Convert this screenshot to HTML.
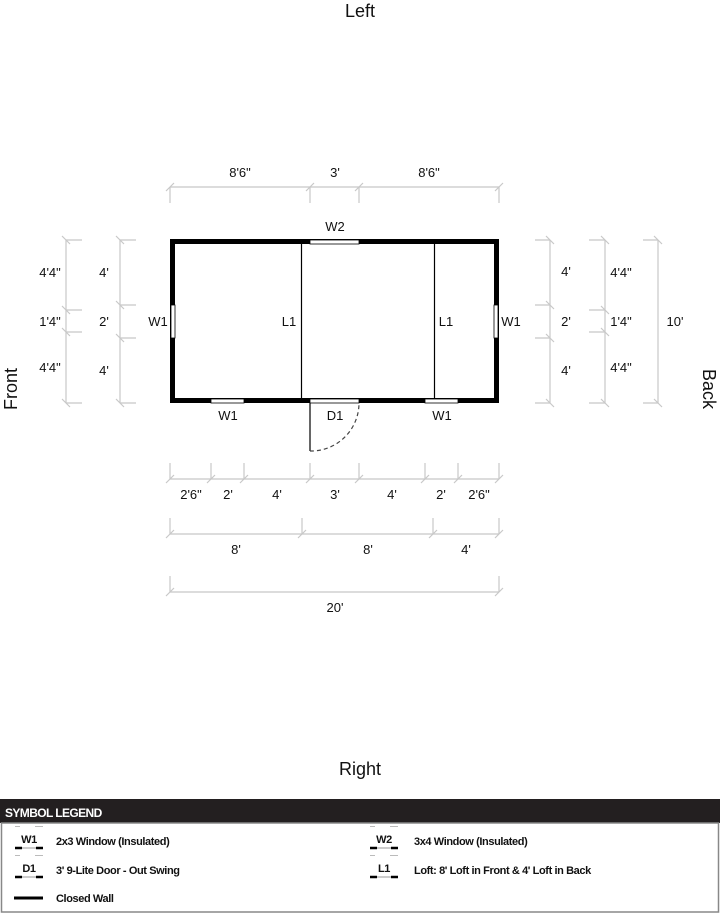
<!DOCTYPE html>
<html><head><meta charset="utf-8"><style>
html,body{margin:0;padding:0;background:#fff;width:720px;height:913px;overflow:hidden}
svg{display:block}
.t{font-family:"Liberation Sans",sans-serif;font-size:13px;fill:#111}
.l{font-family:"Liberation Sans",sans-serif;font-size:11px;font-weight:bold;fill:#111;letter-spacing:-0.4px}
</style></head><body>
<svg width="720" height="913" viewBox="0 0 720 913" xmlns="http://www.w3.org/2000/svg">
<g class="t">
<text x="360" y="17" text-anchor="middle" style="font-size:18px">Left</text>
<text x="360" y="775" text-anchor="middle" style="font-size:18px">Right</text>
<text transform="translate(17,389) rotate(-90)" text-anchor="middle" style="font-size:18px">Front</text>
<text transform="translate(703,389) rotate(90)" text-anchor="middle" style="font-size:18px">Back</text>
</g>
<g stroke="#c8c8c8" stroke-width="1.2" fill="none">
<!-- top dims -->
<path d="M170 187H499"/>
<path d="M170 187V203M310 187V203M359 187V203M499 187V203"/>
<path d="M166 191l8-8M306 191l8-8M355 191l8-8M495 191l8-8"/>
<!-- bottom row 1 -->
<path d="M170 479H499"/>
<path d="M170 463V479M211 463V479M244 463V479M310 463V479M359 463V479M425 463V479M458 463V479M499 463V479"/>
<path d="M166 483l8-8M207 483l8-8M240 483l8-8M306 483l8-8M355 483l8-8M421 483l8-8M454 483l8-8M495 483l8-8"/>
<!-- row 2 -->
<path d="M170 534H499M170 518V534M302 518V534M433 518V534M499 518V534"/>
<path d="M166 538l8-8M298 538l8-8M429 538l8-8M495 538l8-8"/>
<!-- row 3 -->
<path d="M170 592H499M170 576V592M499 576V592"/>
<path d="M166 596l8-8M495 596l8-8"/>
<!-- left col 1 x66 -->
<path d="M66 240V403M66 240H82M66 310H82M66 332H82M66 403H82"/>
<path d="M62 236l8 8M62 306l8 8M62 328l8 8M62 399l8 8"/>
<!-- left col 2 x120 -->
<path d="M120 240V403M120 240H136M120 305H136M120 338H136M120 403H136"/>
<path d="M116 236l8 8M116 301l8 8M116 334l8 8M116 399l8 8"/>
<!-- right col x550 -->
<path d="M550 240V403M535 240H550M535 305H550M535 338H550M535 403H550"/>
<path d="M546 236l8 8M546 301l8 8M546 334l8 8M546 399l8 8"/>
<!-- right col x605 -->
<path d="M605 240V403M589 240H605M589 310H605M589 332H605M589 403H605"/>
<path d="M601 236l8 8M601 306l8 8M601 328l8 8M601 399l8 8"/>
<!-- right col x658 -->
<path d="M658 240V403M643 240H658M643 403H658"/>
<path d="M654 236l8 8M654 399l8 8"/>
</g>
<g class="t" text-anchor="middle">
<text x="240" y="177">8'6"</text><text x="335" y="177">3'</text><text x="429" y="177">8'6"</text>
<text x="191" y="499">2'6"</text><text x="228" y="499">2'</text><text x="277" y="499">4'</text><text x="335" y="499">3'</text><text x="392" y="499">4'</text><text x="441" y="499">2'</text><text x="479" y="499">2'6"</text>
<text x="236" y="554">8'</text><text x="368" y="554">8'</text><text x="466" y="554">4'</text>
<text x="335" y="612">20'</text>
<text x="50" y="277">4'4"</text><text x="50" y="326">1'4"</text><text x="50" y="372">4'4"</text>
<text x="104" y="277">4'</text><text x="104" y="326">2'</text><text x="104" y="375">4'</text>
<text x="566" y="276">4'</text><text x="566" y="326">2'</text><text x="566" y="375">4'</text>
<text x="621" y="277">4'4"</text><text x="621" y="326">1'4"</text><text x="621" y="372">4'4"</text>
<text x="675" y="326">10'</text>
<text x="335" y="231">W2</text>
<text x="158" y="326">W1</text><text x="511" y="326">W1</text>
<text x="289" y="326">L1</text><text x="446" y="326">L1</text>
<text x="228" y="420">W1</text><text x="335" y="420">D1</text><text x="442" y="420">W1</text>
</g>
<!-- building -->
<rect x="172.5" y="241.5" width="324" height="159" fill="none" stroke="#000" stroke-width="5"/>
<path d="M301.5 244V398M434.5 244V398" stroke="#000" stroke-width="1.2"/>
<g fill="#fff" stroke="#000" stroke-width="0.8">
<rect x="310" y="240" width="49" height="4"/>
<rect x="211" y="399" width="33" height="4"/>
<rect x="310" y="399" width="49" height="4"/>
<rect x="425" y="399" width="33" height="4"/>
<rect x="171" y="305" width="4" height="33"/>
<rect x="494" y="305" width="4" height="33"/>
</g>
<path d="M310 403V451" stroke="#000" stroke-width="1.2"/>
<path d="M310 451A48 48 0 0 0 359 403" fill="none" stroke="#444" stroke-width="1.2" stroke-dasharray="4 3"/>
<!-- legend -->
<rect x="0" y="799" width="720" height="24" fill="#231f20"/>
<text x="5" y="817" style="font-family:'Liberation Sans',sans-serif;font-size:12px;font-weight:bold;fill:#fff;letter-spacing:-0.6px">SYMBOL LEGEND</text>
<rect x="1.5" y="823" width="717" height="89" fill="#fff" stroke="#888" stroke-width="1.5"/>
<g>
<path d="M15 826.5h5M35 826.5h8M15 855.5h5M35 855.5h8M370 826.5h5M390 826.5h8M370 855.5h5M390 855.5h8" stroke="#bbb" stroke-width="1"/>
<path d="M15 848h7M36 848h7M15 877h7M36 877h7M370 848h7M391 848h7M370 877h7M391 877h7" stroke="#000" stroke-width="2.5"/>
<path d="M22 848h14M22 877h14M377 848h14M377 877h14" stroke="#999" stroke-width="1"/>
<path d="M14 898h29" stroke="#000" stroke-width="3"/>
</g>
<g class="l">
<text x="29" y="843" text-anchor="middle">W1</text>
<text x="29" y="872" text-anchor="middle">D1</text>
<text x="384" y="843" text-anchor="middle">W2</text>
<text x="384" y="872" text-anchor="middle">L1</text>
<text x="56" y="845">2x3 Window (Insulated)</text>
<text x="56" y="874">3' 9-Lite Door - Out Swing</text>
<text x="56" y="902">Closed Wall</text>
<text x="414" y="845">3x4 Window (Insulated)</text>
<text x="414" y="874">Loft: 8' Loft in Front &amp; 4' Loft in Back</text>
</g>
</svg>
</body></html>
